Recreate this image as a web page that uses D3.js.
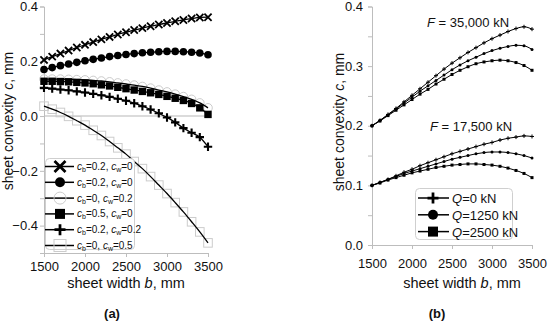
<!DOCTYPE html>
<html><head><meta charset="utf-8">
<script src="https://cdn.jsdelivr.net/npm/d3@7"></script>
<style>
body{margin:0;background:#fff}
svg{display:block}
text{font-family:"Liberation Sans",Arial,sans-serif;fill:#111}
</style>
</head><body>
<svg id="c" width="550" height="324"></svg>
<script>
// ---------- DATA ----------
const widths = [1500,1600,1700,1800,1900,2000,2100,2200,2300,2400,2500,2600,2700,2800,2900,3000,3100,3200,3300,3400,3500];
const xTicks = [1500,2000,2500,3000,3500];
const leftYTicks = [-0.5,-0.4,-0.3,-0.2,-0.1,0.0,0.1,0.2,0.3,0.4];
const leftYLabels = [-0.4,-0.2,0.0,0.2,0.4];
const rightYTicks = [0,0.05,0.1,0.15,0.2,0.25,0.3,0.35,0.4];
const rightYLabels = [0,0.1,0.2,0.3,0.4];

// panel (a)
const a_cb02_cw0_x   = [0.205,0.217,0.228,0.239,0.250,0.260,0.270,0.280,0.289,0.298,0.306,0.314,0.321,0.328,0.334,0.340,0.346,0.351,0.356,0.360,0.361];
const a_cb02_cw0_dot = [0.170,0.177,0.184,0.190,0.196,0.202,0.207,0.212,0.217,0.221,0.225,0.228,0.231,0.233,0.235,0.236,0.236,0.235,0.233,0.230,0.224];
const a_cb0_cw02     = [0.135,0.135,0.135,0.134,0.133,0.132,0.130,0.128,0.125,0.121,0.117,0.113,0.108,0.102,0.095,0.088,0.080,0.071,0.061,0.048,0.030];
const a_cb05_cw0     = [0.127,0.127,0.126,0.125,0.123,0.121,0.118,0.114,0.110,0.105,0.100,0.095,0.090,0.085,0.079,0.072,0.065,0.057,0.046,0.030,0.006];
const a_cb02_cw02    = [0.103,0.100,0.097,0.094,0.090,0.086,0.081,0.076,0.070,0.063,0.056,0.047,0.036,0.024,0.010,-0.005,-0.023,-0.044,-0.061,-0.077,-0.112];
const a_cb0_cw05     = [0.036,0.025,0.013,-0.001,-0.017,-0.033,-0.052,-0.071,-0.093,-0.116,-0.139,-0.166,-0.192,-0.221,-0.252,-0.283,-0.316,-0.350,-0.386,-0.423,-0.463];

// panel (b)
const b_F35_Q0    = [0.200,0.209,0.219,0.229,0.240,0.251,0.262,0.273,0.284,0.295,0.305,0.314,0.323,0.331,0.339,0.346,0.352,0.358,0.363,0.366,0.362];
const b_F35_Q1250 = [0.200,0.209,0.218,0.228,0.238,0.248,0.258,0.267,0.276,0.285,0.294,0.302,0.309,0.315,0.321,0.326,0.330,0.333,0.335,0.334,0.328];
const b_F35_Q2500 = [0.200,0.208,0.217,0.226,0.235,0.244,0.253,0.261,0.270,0.278,0.286,0.293,0.299,0.304,0.307,0.309,0.310,0.309,0.306,0.301,0.293];
const b_F17_Q0    = [0.100,0.105,0.110,0.116,0.122,0.127,0.133,0.138,0.143,0.148,0.153,0.157,0.161,0.165,0.169,0.172,0.176,0.179,0.181,0.183,0.182];
const b_F17_Q1250 = [0.100,0.105,0.110,0.115,0.120,0.124,0.128,0.132,0.136,0.140,0.144,0.147,0.150,0.153,0.155,0.156,0.156,0.155,0.153,0.150,0.146];
const b_F17_Q2500 = [0.100,0.104,0.109,0.113,0.117,0.121,0.124,0.127,0.130,0.132,0.134,0.135,0.136,0.136,0.135,0.134,0.132,0.129,0.125,0.120,0.113];

const leftLegend = [
  {sub1:"b", v1:"0.2", sub2:"w", v2:"0",   m:"x"},
  {sub1:"b", v1:"0.2", sub2:"w", v2:"0",   m:"dot"},
  {sub1:"b", v1:"0",   sub2:"w", v2:"0.2", m:"ocirc"},
  {sub1:"b", v1:"0.5", sub2:"w", v2:"0",   m:"sq"},
  {sub1:"b", v1:"0.2", sub2:"w", v2:"0.2", m:"plus"},
  {sub1:"b", v1:"0",   sub2:"w", v2:"0.5", m:"osq"}
];
const rightLegend = [
  {q:"0", m:"plus"}, {q:"1250", m:"dot"}, {q:"2500", m:"sq"}
];

// ---------- DRAW ----------
const svg = d3.select("#c");
const AX = "#bdbdbd";

function marker(g, type, cx, cy, s){
  if(type==="x"){
    g.append("path").attr("d",`M${cx-s},${cy-s}L${cx+s},${cy+s}M${cx-s},${cy+s}L${cx+s},${cy-s}`)
     .attr("stroke","#000").attr("stroke-width",Math.max(1,s*0.5)).attr("fill","none");
  } else if(type==="plus"){
    g.append("path").attr("d",`M${cx-s},${cy}L${cx+s},${cy}M${cx},${cy-s}L${cx},${cy+s}`)
     .attr("stroke","#000").attr("stroke-width",Math.max(1,s*0.5)).attr("fill","none");
  } else if(type==="dot"){
    g.append("circle").attr("cx",cx).attr("cy",cy).attr("r",s).attr("fill","#000");
  } else if(type==="sq"){
    g.append("rect").attr("x",cx-s).attr("y",cy-s).attr("width",2*s).attr("height",2*s).attr("fill","#000");
  } else if(type==="ocirc"){
    g.append("circle").attr("cx",cx).attr("cy",cy).attr("r",s).attr("fill","none").attr("stroke","#cccccc").attr("stroke-width",1);
  } else if(type==="osq"){
    g.append("rect").attr("x",cx-s).attr("y",cy-s).attr("width",2*s).attr("height",2*s).attr("fill","none").attr("stroke","#cccccc").attr("stroke-width",1);
  }
}

function styleAxis(g){
  g.select(".domain").attr("stroke",AX);
  g.selectAll(".tick line").attr("stroke",AX);
  g.selectAll(".tick text").attr("font-size",13).attr("fill","#111")
    .attr("font-family","Liberation Sans, Arial, sans-serif");
}

// ===== Panel (a) =====
const xA = d3.scaleLinear().domain([1500,3500]).range([44,208]);
const yA = d3.scaleLinear().domain([-0.5,0.4]).range([253,6.5]);
const fmt1 = d3.format(".1f");

svg.append("line").attr("x1",xA(1500)).attr("x2",xA(3500)).attr("y1",yA(0)).attr("y2",yA(0)).attr("stroke","#cfcfcf").attr("stroke-width",1.5);

const gAx = svg.append("g").attr("transform",`translate(0,${yA(-0.5)})`)
  .call(d3.axisBottom(xA).tickValues(xTicks).tickSize(4).tickPadding(5).tickFormat(d3.format("d")));
styleAxis(gAx);
const gAy = svg.append("g").attr("transform",`translate(${xA(1500)},0)`)
  .call(d3.axisLeft(yA).tickValues(leftYTicks).tickSize(4).tickPadding(2)
    .tickFormat(d => leftYLabels.some(v=>Math.abs(v-d)<1e-9) ? fmt1(d) : ""));
styleAxis(gAy);

const lineA = d3.line().x((d,i)=>xA(widths[i])).y(d=>yA(d)).curve(d3.curveMonotoneX);
const gA = svg.append("g");

// open markers behind
a_cb0_cw02.forEach((v,i)=>marker(gA,"ocirc",xA(widths[i]),yA(v),4.3));
a_cb0_cw05.forEach((v,i)=>marker(gA,"osq",xA(widths[i]),yA(v),4.3));
[a_cb02_cw0_x,a_cb02_cw0_dot,a_cb05_cw0,a_cb02_cw02,a_cb0_cw02,a_cb0_cw05].forEach(s=>{
  gA.append("path").datum(s).attr("d",lineA).attr("fill","none").attr("stroke","#000").attr("stroke-width",1.3);
});
a_cb02_cw0_x.forEach((v,i)=>marker(gA,"x",xA(widths[i]),yA(v),3.6));
a_cb02_cw0_dot.forEach((v,i)=>marker(gA,"dot",xA(widths[i]),yA(v),3.8));
a_cb05_cw0.forEach((v,i)=>marker(gA,"sq",xA(widths[i]),yA(v),3.7));
a_cb02_cw02.forEach((v,i)=>marker(gA,"plus",xA(widths[i]),yA(v),4.2));

// legend (a)
const lgA = svg.append("g");
lgA.append("rect").attr("x",45.5).attr("y",158.5).attr("width",89).attr("height",91).attr("rx",4)
  .attr("fill","#fff").attr("stroke","#cfcfcf");
leftLegend.forEach((d,i)=>{
  const cy = 166.5 + i*15.8;
  lgA.append("line").attr("x1",45).attr("x2",74).attr("y1",cy).attr("y2",cy).attr("stroke","#000").attr("stroke-width",1.5);
  const sz = {x:5.5,dot:5,ocirc:6,sq:5,plus:5.5,osq:6}[d.m];
  marker(lgA,d.m,60,cy,sz);
  const t = lgA.append("text").attr("x",77).attr("y",cy+3.5).attr("font-size",10);
  t.append("tspan").attr("font-style","italic").text("c");
  t.append("tspan").attr("font-size",7).attr("dy",2).text(d.sub1);
  t.append("tspan").attr("dy",-2).text("=" + d.v1 + ", ");
  t.append("tspan").attr("font-style","italic").text("c");
  t.append("tspan").attr("font-size",7).attr("dy",2).text(d.sub2);
  t.append("tspan").attr("dy",-2).text("=" + d.v2);
});

// titles (a)
const xtA = svg.append("text").attr("x",126).attr("y",288).attr("text-anchor","middle").attr("font-size",14.5);
xtA.append("tspan").text("sheet width ");
xtA.append("tspan").attr("font-style","italic").text("b");
xtA.append("tspan").text(", mm");
const ytA = svg.append("text").attr("transform","translate(13,121) rotate(-90)").attr("text-anchor","middle").attr("font-size",14);
ytA.append("tspan").text("sheet convexity ");
ytA.append("tspan").attr("font-style","italic").text("c");
ytA.append("tspan").text(", mm");
svg.append("text").attr("x",112).attr("y",318).attr("text-anchor","middle").attr("font-size",13)
  .attr("font-weight","bold").attr("font-family","Liberation Serif, Times New Roman, serif").text("(a)");

// ===== Panel (b) =====
const xB = d3.scaleLinear().domain([1500,3500]).range([372,532]);
const yB = d3.scaleLinear().domain([0,0.4]).range([245,6.5]);

const gBx = svg.append("g").attr("transform",`translate(0,${yB(0)})`)
  .call(d3.axisBottom(xB).tickValues(xTicks).tickSize(4).tickPadding(10).tickFormat(d3.format("d")));
styleAxis(gBx);
const gBy = svg.append("g").attr("transform",`translate(${xB(1500)},0)`)
  .call(d3.axisLeft(yB).tickValues(rightYTicks).tickSize(4).tickPadding(5)
    .tickFormat(d => rightYLabels.some(v=>Math.abs(v-d)<1e-9) ? fmt1(d) : ""));
styleAxis(gBy);

const lineB = d3.line().x((d,i)=>xB(widths[i])).y(d=>yB(d)).curve(d3.curveMonotoneX);
const gB = svg.append("g");
const seriesB = [[b_F35_Q0,"plus"],[b_F35_Q1250,"dot"],[b_F35_Q2500,"sq"],[b_F17_Q0,"plus"],[b_F17_Q1250,"dot"],[b_F17_Q2500,"sq"]];
seriesB.forEach(([s,m])=>{
  gB.append("path").datum(s).attr("d",lineB).attr("fill","none").attr("stroke","#000").attr("stroke-width",1);
  s.forEach((v,i)=>marker(gB,m,xB(widths[i]),yB(v),m==="plus"?2:1.5));
});

function fLabel(x,y,val){
  const t = svg.append("text").attr("x",x).attr("y",y).attr("font-size",13);
  t.append("tspan").attr("font-style","italic").text("F");
  t.append("tspan").text(" = " + val + " kN");
}
fLabel(427,27,"35,000");
fLabel(430,131,"17,500");

// legend (b)
const lgB = svg.append("g");
lgB.append("rect").attr("x",415.5).attr("y",188.5).attr("width",97).attr("height",51).attr("rx",4)
  .attr("fill","#fff").attr("stroke","#cfcfcf");
rightLegend.forEach((d,i)=>{
  const cy = 198 + i*16.8;
  lgB.append("line").attr("x1",418).attr("x2",449).attr("y1",cy).attr("y2",cy).attr("stroke","#000").attr("stroke-width",1.5);
  marker(lgB,d.m,433,cy,d.m==="plus"?5.5:5);
  const t = lgB.append("text").attr("x",452).attr("y",cy+5).attr("font-size",13);
  t.append("tspan").attr("font-style","italic").text("Q");
  t.append("tspan").text("=" + d.q + " kN");
});

const xtB = svg.append("text").attr("x",462).attr("y",288).attr("text-anchor","middle").attr("font-size",14.5);
xtB.append("tspan").text("sheet width ");
xtB.append("tspan").attr("font-style","italic").text("b");
xtB.append("tspan").text(", mm");
const ytB = svg.append("text").attr("transform","translate(344,122) rotate(-90)").attr("text-anchor","middle").attr("font-size",14);
ytB.append("tspan").text("sheet convexity ");
ytB.append("tspan").attr("font-style","italic").text("c");
ytB.append("tspan").text(", mm");
svg.append("text").attr("x",437).attr("y",318).attr("text-anchor","middle").attr("font-size",13)
  .attr("font-family","Liberation Serif, Times New Roman, serif").attr("font-weight","bold").text("(b)");
</script>
</body></html>
